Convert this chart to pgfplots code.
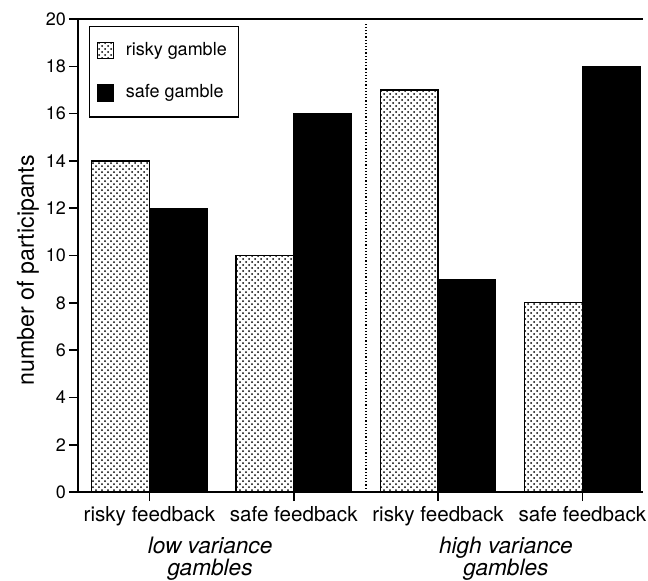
\documentclass[border=0pt]{standalone}
\usepackage{fontspec}
\setmainfont{TeX Gyre Heros}
\usepackage{pgfplots}
\pgfplotsset{compat=1.18}
\usetikzlibrary{patterns,calc}

\begin{document}
\begin{tikzpicture}
\begin{axis}[
    scale only axis,
    width=282.5pt, height=236.5pt,
    axis x line=box, axis y line=left,
    axis line style={line width=0.9pt, -},
    xtick pos=left, ytick pos=left,
    tick align=outside,
    major tick length=4.5pt,
    every tick/.style={black, line width=0.8pt},
    ybar=0pt, bar width=0.4,
    xmin=-0.495, xmax=3.42,
    ymin=0, ymax=20,
    xtick={0,1,2,3},
    xticklabels={risky feedback, safe feedback, risky feedback, safe feedback},
    ytick={0,2,...,20},
    /pgf/number format/assume math mode=true,
    x tick label style={font=\fontsize{10.3}{12}\selectfont, yshift=1pt},
    y tick label style={font=\fontsize{9}{11}\selectfont, xshift=2pt},
    ylabel={number of participants},
    ylabel style={font=\fontsize{11.6}{13}\selectfont, at={(axis description cs:-0.0885,0.469)}, anchor=center},
    legend style={at={(rel axis cs:0.0195,0.985)}, anchor=north west,
        draw=black, line width=0.6pt, font=\fontsize{9}{10}\selectfont,
        inner xsep=3.5pt, inner ysep=6pt, row sep=9pt,
        /tikz/every odd column/.append style={column sep=3.5pt},
        nodes={inner xsep=2.5pt}},
    legend cell align=left,
    clip=false,
]
\addplot[draw=black, line width=0.6pt, pattern=crosshatch dots,
    legend image code/.code={\draw[draw=black, line width=0.5pt, pattern=crosshatch dots] (0pt,-4pt) rectangle (8pt,4pt);}]
    coordinates {(0,14) (1,10) (2,17) (3,8)};
\addlegendentry{risky gamble}
\addplot[draw=black, fill=black,
    legend image code/.code={\fill[black] (0pt,-4pt) rectangle (8pt,4pt);}]
    coordinates {(0,12) (1,16) (2,9) (3,18)};
\addlegendentry{safe gamble}

\draw[densely dotted, line width=0.6pt] (axis cs:1.5,0) -- (axis cs:1.5,19.8);
\node[anchor=north, align=center, yshift=-19pt, font=\fontsize{11.3}{11}\itshape] at (axis cs:0.42,0) {low variance\\gambles};
\node[anchor=north, align=center, yshift=-19pt, font=\fontsize{11.3}{11}\itshape] at (axis cs:2.47,0) {high variance\\gambles};
\coordinate (ll) at (rel axis cs:0,0);
\end{axis}
\pgfresetboundingbox
\path ($(ll)+(-39pt,-44pt)$) rectangle ($(ll)+(285pt,246pt)$);
\end{tikzpicture}
\end{document}
